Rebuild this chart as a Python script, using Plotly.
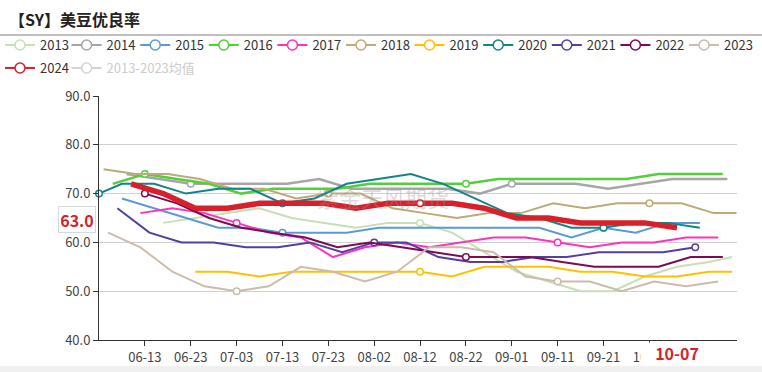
import plotly.graph_objects as go
import pandas as pd

# ---------------- data (MM-DD of weekly reports, good/excellent %) ----------------
dates_2013 = ["06-17","06-24","07-01","07-08","07-15","07-22","07-29","08-05","08-12","08-19",
              "08-26","09-02","09-09","09-16","09-23","09-30","10-07","10-14","10-19"]
vals_2013 = [64,65,66,67,65,64,63,64,64,62,58,54,52,50,50,53,55,56,57]

dates_2014 = ["06-09","06-16","06-23","06-30","07-07","07-14","07-21","07-28","08-04","08-11",
              "08-18","08-25","09-01","09-08","09-15","09-22","09-29","10-06","10-13","10-18"]
vals_2014 = [74,73,72,72,72,72,73,71,71,71,71,70,72,72,72,71,72,73,73,73]

dates_2015 = ["06-08","06-15","06-22","06-29","07-06","07-13","07-20","07-27","08-03","08-10",
              "08-17","08-24","08-31","09-07","09-14","09-21","09-28","10-05","10-12"]
vals_2015 = [69,67,65,63,63,62,62,62,63,63,63,63,63,63,61,63,62,64,64]

dates_2016 = ["06-06","06-13","06-20","06-27","07-04","07-11","07-18","07-25","08-01","08-08",
              "08-15","08-22","08-29","09-05","09-12","09-19","09-26","10-03","10-10","10-17"]
vals_2016 = [72,74,73,72,70,71,71,71,72,72,72,72,73,73,73,73,73,74,74,74]

dates_2017 = ["06-12","06-19","06-26","07-03","07-10","07-17","07-24","07-31","08-07","08-14",
              "08-21","08-28","09-04","09-11","09-18","09-25","10-02","10-09","10-16"]
vals_2017 = [66,67,66,64,62,61,57,59,60,59,60,61,61,60,59,60,60,61,61]

dates_2018 = ["06-04","06-11","06-18","06-25","07-02","07-09","07-16","07-23","07-30","08-06",
              "08-13","08-20","08-27","09-03","09-10","09-17","09-24","10-01","10-08","10-15","10-20"]
vals_2018 = [75,74,74,73,71,71,69,70,70,67,66,65,66,66,68,67,68,68,68,66,66]

dates_2019 = ["06-24","07-01","07-08","07-15","07-22","07-29","08-05","08-12","08-19","08-26",
              "09-02","09-09","09-16","09-23","09-30","10-07","10-14","10-19"]
vals_2019 = [54,54,53,54,54,54,54,54,53,55,55,55,54,54,53,53,54,54]

dates_2020 = ["06-03","06-08","06-15","06-22","06-29","07-06","07-13","07-20","07-27","08-03",
              "08-10","08-17","08-24","08-31","09-07","09-14","09-21","09-28","10-05","10-12"]
vals_2020 = [70,72,72,70,71,71,68,69,72,73,74,72,69,66,65,63,63,64,64,63]

dates_2021 = ["06-07","06-14","06-21","06-28","07-05","07-12","07-19","07-26","08-02","08-09",
              "08-16","08-23","08-30","09-06","09-13","09-20","09-27","10-04","10-11"]
vals_2021 = [67,62,60,60,59,59,60,58,60,60,57,56,56,57,57,58,58,58,59]

dates_2022 = ["06-13","06-20","06-27","07-04","07-11","07-18","07-25","08-01","08-08","08-15",
              "08-22","08-29","09-05","09-12","09-19","09-26","10-03","10-10","10-17"]
vals_2022 = [70,68,65,63,62,61,59,60,59,58,57,57,57,56,55,55,55,57,57]

dates_2023 = ["06-05","06-12","06-19","06-26","07-03","07-10","07-17","07-24","07-31","08-07",
              "08-14","08-21","08-28","09-04","09-11","09-18","09-25","10-02","10-09","10-16"]
vals_2023 = [62,59,54,51,50,51,55,54,52,54,59,59,58,53,52,52,50,52,51,52]

dates_2024 = ["06-10","06-17","06-24","07-01","07-08","07-15","07-22","07-29","08-05","08-12",
              "08-19","08-26","09-02","09-09","09-16","09-23","09-30","10-07"]
vals_2024 = [72,70,67,67,68,68,68,67,68,68,68,67,65,65,64,64,64,63]

tick_labels = ["06-13","06-23","07-03","07-13","07-23","08-02","08-12","08-22",
               "09-01","09-11","09-21","10-01"]
y_ticks = [40, 50, 60, 70, 80, 90]
latest_date = "10-07"
latest_value = 63.0
avg_name = "2013-2023均值"

# ---------------- styling ----------------
YEAR = "2024-"          # common dummy year for the month-day axis
BASE = pd.Timestamp(YEAR + "06-03")
series = [
    ("2013", dates_2013, vals_2013, "#c6e0b4", 2),
    ("2014", dates_2014, vals_2014, "#a6a6a6", 2.5),
    ("2015", dates_2015, vals_2015, "#5b9bd5", 2),
    ("2016", dates_2016, vals_2016, "#52cf3a", 2.5),
    ("2017", dates_2017, vals_2017, "#ff33bb", 2),
    ("2018", dates_2018, vals_2018, "#bcab78", 2),
    ("2019", dates_2019, vals_2019, "#ffc000", 2),
    ("2020", dates_2020, vals_2020, "#138489", 2),
    ("2021", dates_2021, vals_2021, "#543f9d", 2),
    ("2022", dates_2022, vals_2022, "#7e0a55", 2),
    ("2023", dates_2023, vals_2023, "#cbbcac", 2),
    ("2024", dates_2024, vals_2024, "#d7202a", 5.5),
]

FONT = "Noto Sans CJK SC, Noto Sans, sans-serif"
fig = go.Figure()

for name, d, v, col, w in series:
    x = [YEAR + s for s in d]
    fig.add_trace(go.Scatter(x=x, y=v, mode="lines", line=dict(color=col, width=w),
                             showlegend=False, hoverinfo="skip", name=name))
    # symbols only where a point falls on a labelled day
    mx, my = [], []
    for xi, yi in zip(x, v):
        if (pd.Timestamp(xi) - BASE).days % 10 == 0:
            mx.append(xi); my.append(yi)
    if mx:
        fig.add_trace(go.Scatter(x=mx, y=my, mode="markers", showlegend=False, hoverinfo="skip",
                                 marker=dict(size=6.5, color="white",
                                             line=dict(color=col, width=1.5)),
                                 cliponaxis=False))

# legend entries: one small legend per entry, laid out like the reference
STEP = 68.6
ROW1 = 1 - 45/372
ROW2 = 1 - 68/372
legend_layout = {}


def leg_key(i):
    return "legend" if i == 0 else "legend%d" % (i + 1)


entries = [(s[0], s[3], "#333", True) for s in series] + [(avg_name, "#aaaaaa", "#999", False)]
for i, (name, col, tcol, vis) in enumerate(entries):
    if i < 11:
        xpx, ypos = -2 + STEP * i, ROW1
    else:
        xpx, ypos = -2 + STEP * (i - 11), ROW2
    key = leg_key(i)
    legend_layout[key] = dict(orientation="h", xref="container", yref="container",
                              x=xpx/762, y=ypos, xanchor="left", yanchor="middle", itemwidth=30,
                              font=dict(family=FONT, size=13, color=tcol),
                              bgcolor="rgba(0,0,0,0)")
    fig.add_trace(go.Scatter(x=[None], y=[None], mode="lines+markers", name=name,
                             line=dict(color=col, width=2),
                             visible=True if vis else "legendonly",
                             marker=dict(size=10, color="white", line=dict(color=col, width=1.5)),
                             legend=key))

tick_vals = [YEAR + t for t in tick_labels]

fig.update_layout(
    width=762, height=372,
    margin=dict(l=99, r=25, t=96, b=32, autoexpand=False),
    paper_bgcolor="white", plot_bgcolor="white",
    font=dict(family=FONT, size=13, color="#333"),
    title=dict(text="<b>【SY】美豆优良率</b>", x=9/762, xref="container", xanchor="left",
               y=1-20/372, yref="container", yanchor="middle",
               font=dict(family=FONT, size=16, color="#222")),
    xaxis=dict(type="date", range=[YEAR + "06-03", YEAR + "10-20 02:24"],
               tickvals=tick_vals, ticktext=tick_labels,
               showgrid=False, zeroline=False, showline=True, linecolor="#333", linewidth=1,
               ticks="outside", ticklen=5, tickcolor="#333",
               tickfont=dict(family=FONT, size=13, color="#444")),
    yaxis=dict(range=[40, 90], tickvals=y_ticks, tickformat=".1f",
               showgrid=True, gridcolor="#d0d0d0", gridwidth=1, zeroline=False,
               showline=True, linecolor="#333", linewidth=1,
               ticks="outside", ticklen=5, tickcolor="#333",
               tickfont=dict(family=FONT, size=13, color="#444")),
    hovermode=False,
    **legend_layout,
)

# separator under title and grey strip at the bottom
PW, PH = 638.0, 244.0
fig.add_shape(type="line", xref="paper", yref="paper", x0=-99/PW, x1=(762-99)/PW,
              y0=(340-35)/PH, y1=(340-35)/PH, line=dict(color="#aaaaaa", width=1.5))
fig.add_shape(type="rect", xref="paper", yref="paper", x0=-99/PW, x1=(762-99)/PW,
              y0=(340-366)/PH, y1=(340-373)/PH, fillcolor="#f0f0f0", line=dict(width=0),
              layer="below")

# watermark
fig.add_annotation(text="紫金天风期货", xref="paper", yref="paper", x=(383-99)/PW, y=(340-197)/PH,
                   xanchor="center", yanchor="middle", showarrow=False,
                   font=dict(family=FONT, size=22, color="rgba(150,150,150,0.35)"))

# latest value label on the y axis and latest date label on the x axis
fig.add_annotation(text="<b>%.1f</b>" % latest_value, xref="paper", yref="paper",
                   x=(76.5-99)/PW, y=(340-219)/PH, xanchor="center", yanchor="middle",
                   showarrow=False, font=dict(family=FONT, size=16, color="#d7202a"),
                   bgcolor="white", bordercolor="#d8d8d8", borderwidth=1, borderpad=2,
                   width=32, height=21)
fig.add_annotation(text="<b>%s</b>" % latest_date, xref="paper", yref="paper",
                   x=(676.5-99)/PW, y=(340-353)/PH, xanchor="center", yanchor="middle",
                   showarrow=False, font=dict(family=FONT, size=16, color="#d7202a"),
                   bgcolor="white", width=70, height=18)

fig.write_html("out.html", config={"displayModeBar": False},
               post_script="document.body.style.margin='0';document.body.style.overflow='hidden';")
